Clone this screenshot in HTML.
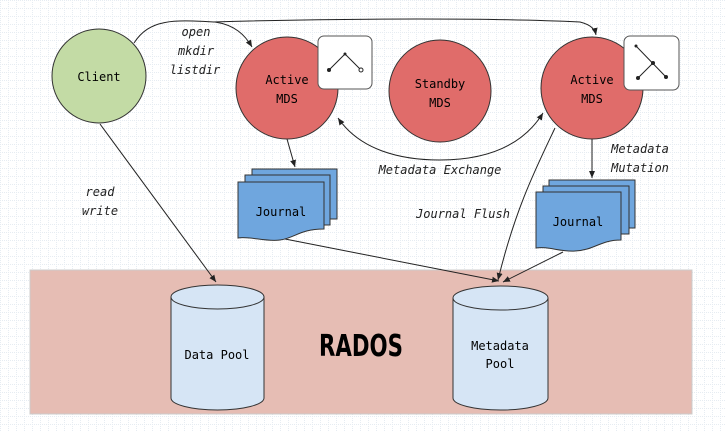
<!DOCTYPE html>
<html><head><style>body{margin:0;background:#fff}svg{display:block}</style></head><body>
<svg width="725" height="432" viewBox="0 0 725 432" xmlns="http://www.w3.org/2000/svg" font-family="DejaVu Sans Mono, Liberation Mono, monospace">
<defs>
<pattern id="g" width="8" height="8" patternUnits="userSpaceOnUse"><path d="M0 0.5H8M0.5 0V8" stroke="#e6ecf2" stroke-width="1" stroke-dasharray="1,1"/></pattern>
<marker id="a" markerWidth="8" markerHeight="8" refX="7" refY="4" orient="auto-start-reverse" markerUnits="userSpaceOnUse"><path d="M0,1 L7,4 L0,7 z" fill="#222"/></marker>
</defs>
<rect width="725" height="432" fill="url(#g)"/>
<rect x="30" y="270" width="662" height="144" fill="#e6bdb4" stroke="#ccc"/>
<text x="319" y="356" font-family="DejaVu Sans Condensed, Liberation Sans Narrow, sans-serif" font-weight="bold" font-size="30" textLength="84" lengthAdjust="spacingAndGlyphs">RADOS</text>
<g stroke="#333" stroke-width="1" fill="#d6e5f5">
<path d="M171 297 V398 A46.5 12 0 0 0 264 398 V297"/>
<ellipse cx="217.5" cy="297" rx="46.5" ry="12"/>
<path d="M453 298 V398 A47.5 12 0 0 0 548 398 V298"/>
<ellipse cx="500.5" cy="298" rx="47.5" ry="12"/>
</g>
<g font-size="12" text-anchor="middle">
<text x="217" y="359">Data Pool</text>
<text x="500" y="350">Metadata</text>
<text x="500" y="368">Pool</text>
</g>
<g stroke="#222" stroke-width="1" fill="none">
<path d="M134 43 C150 18 175 20 215 22 C235 25 245 35 252 47" marker-end="url(#a)"/>
<path d="M213 22 C350 18 500 18 580 22 C592 25 595 30 596 35" marker-end="url(#a)"/>
<path d="M100 124 L216 282" marker-end="url(#a)"/>
<path d="M287 139 L295 167" marker-end="url(#a)"/>
<path d="M592 139 L592 178" marker-end="url(#a)"/>
<path d="M543 113 C520 150 480 160 440 160 C400 160 360 150 338 118" marker-start="url(#a)" marker-end="url(#a)"/>
<path d="M555 128 C535 170 515 210 498 280" marker-end="url(#a)"/>
<path d="M280 238 L499 281" marker-end="url(#a)"/>
<path d="M563 252 L503 282" marker-end="url(#a)"/>
</g>
<g font-size="12" text-anchor="middle">
<circle cx="99" cy="76" r="47" fill="#c3dba5" stroke="#333"/>
<text x="99" y="81">Client</text>
<circle cx="287" cy="88" r="51" fill="#e06c6a" stroke="#333"/>
<text x="287" y="84">Active</text>
<text x="287" y="103">MDS</text>
<circle cx="440" cy="91" r="51" fill="#e06c6a" stroke="#333"/>
<text x="440" y="88">Standby</text>
<text x="440" y="107">MDS</text>
<circle cx="592" cy="88" r="51" fill="#e06c6a" stroke="#333"/>
<text x="592" y="84">Active</text>
<text x="592" y="103">MDS</text>
</g>
<rect x="318" y="36" width="54" height="53" rx="6" fill="#fff" stroke="#555"/>
<path d="M329 70 L345 54 L361 70" stroke="#222" fill="none"/>
<circle cx="329" cy="70" r="2" fill="#222"/><circle cx="345" cy="54" r="1.5" fill="#222"/><circle cx="361" cy="70" r="2" fill="#fff" stroke="#222"/>
<rect x="624" y="36" width="55" height="54" rx="6" fill="#fff" stroke="#555"/>
<path d="M636 46 L666 77 M653 63 L638 78" stroke="#222" fill="none"/>
<circle cx="636" cy="46" r="1.5" fill="#222"/><circle cx="653" cy="63" r="2" fill="#222"/><circle cx="666" cy="77" r="2" fill="#222"/><circle cx="638" cy="78" r="2" fill="#222"/>
<g stroke="#333" fill="#6fa6de">
<rect x="252" y="169" width="85" height="50"/>
<rect x="245" y="175" width="85" height="50"/>
<path d="M238 182 H324 V229 C300 229 295 238 280 240 C265 242 250 236 238 238 Z"/>
<rect x="549" y="180" width="86" height="48"/>
<rect x="543" y="186" width="86" height="48"/>
<path d="M536 192 H621 V240 C600 240 595 250 575 251 C560 252 548 246 536 248 Z"/>
</g>
<text x="281" y="216" font-size="12" text-anchor="middle">Journal</text>
<text x="578" y="226" font-size="12" text-anchor="middle">Journal</text>
<g font-size="12" font-style="italic" text-anchor="middle" fill="#222">
<text x="196" y="36">open</text><text x="196" y="55">mkdir</text><text x="195" y="74">listdir</text>
<text x="100" y="196">read</text><text x="100" y="215">write</text>
<text x="440" y="174">Metadata Exchange</text>
<text x="463" y="218">Journal Flush</text>
<text x="640" y="153">Metadata</text><text x="640" y="172">Mutation</text>
</g>
</svg>
</body></html>
